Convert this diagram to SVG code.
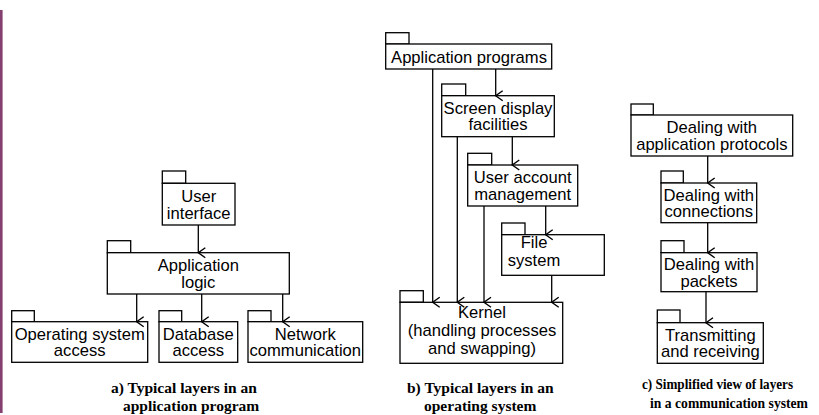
<svg xmlns="http://www.w3.org/2000/svg" width="819" height="415" viewBox="0 0 819 415">
<style>
.box{fill:#fff;stroke:#000;stroke-width:1.3}
.t{font-family:"Liberation Sans",Arial,sans-serif;font-size:16.6px;text-anchor:middle;fill:#000}
.cap{font-family:"Liberation Serif","Times New Roman",serif;font-size:15.5px;font-weight:bold;fill:#000}
.cap2{font-family:"Liberation Serif","Times New Roman",serif;font-size:14.5px;font-weight:bold;fill:#000}
.c{fill:none;stroke:#000;stroke-width:1.3}
</style>
<defs>
<marker id="ah" markerWidth="12" markerHeight="10" refX="6" refY="8" orient="auto" markerUnits="userSpaceOnUse" viewBox="0 0 12 10">
<path d="M1,1 L6,8 L11,1" fill="none" stroke="#000" stroke-width="1.4"/>
</marker>
</defs>
<rect x="0" y="10" width="2.6" height="403" fill="#84406f"/>
<!-- section a -->
<g id="ui"><rect class="box" x="162.3" y="171" width="23.4" height="12.3"/><rect class="box" x="162.3" y="183.3" width="72.7" height="41.7"/><text class="t" x="198.7" y="202">User</text><text class="t" x="198.7" y="218.5">interface</text></g>
<g id="applogic"><rect class="box" x="107.3" y="240.7" width="23.4" height="12"/><rect class="box" x="107.3" y="252.7" width="182" height="41.3"/><text class="t" x="198.3" y="271">Application</text><text class="t" x="198.3" y="287.5">logic</text></g>
<g id="osaccess"><rect class="box" x="11.7" y="310.7" width="22.6" height="11"/><rect class="box" x="11.7" y="321.7" width="136" height="40.6"/><text class="t" x="79.7" y="339.5">Operating system</text><text class="t" x="79.7" y="356">access</text></g>
<g id="dbaccess"><rect class="box" x="159" y="310.7" width="22.7" height="11"/><rect class="box" x="159" y="321.7" width="78.7" height="40.6"/><text class="t" x="198.3" y="339.5">Database</text><text class="t" x="198.3" y="356">access</text></g>
<g id="network"><rect class="box" x="248" y="310.7" width="23" height="11"/><rect class="box" x="248" y="321.7" width="114.7" height="40.6"/><text class="t" x="305.3" y="339.5">Network</text><text class="t" x="305.3" y="356">communication</text></g>
<!-- section b -->
<g id="appprog"><rect class="box" x="385.7" y="32.7" width="23.3" height="11.3"/><rect class="box" x="385.7" y="44" width="166" height="25"/><text class="t" x="469" y="62.5">Application programs</text></g>
<g id="screen"><rect class="box" x="441.7" y="84" width="24" height="11.7"/><rect class="box" x="441.7" y="95.7" width="112.6" height="41"/><text class="t" x="498" y="113.5">Screen display</text><text class="t" x="498" y="130">facilities</text></g>
<g id="useraccount"><rect class="box" x="467.7" y="153.3" width="24" height="11.7"/><rect class="box" x="467.7" y="165" width="110" height="41"/><text class="t" x="522.7" y="183">User account</text><text class="t" x="522.7" y="199.5">management</text></g>
<g id="filesystem"><rect class="box" x="501.7" y="223" width="23.3" height="11.7"/><rect class="box" x="501.7" y="234.7" width="102.6" height="40.6"/><text class="t" x="534" y="248">File</text><text class="t" x="534" y="266">system</text></g>
<g id="kernel"><rect class="box" x="400" y="290.7" width="23.3" height="11.6"/><rect class="box" x="400" y="302.3" width="162.7" height="61"/><text class="t" x="482" y="318">Kernel</text><text class="t" x="482" y="336">(handling processes</text><text class="t" x="482" y="353.5">and swapping)</text></g>
<!-- section c -->
<g id="appproto"><rect class="box" x="631" y="104" width="22.3" height="11"/><rect class="box" x="631" y="115" width="161.7" height="41"/><text class="t" x="711.8" y="133">Dealing with</text><text class="t" x="711.8" y="149.5">application protocols</text></g>
<g id="connections"><rect class="box" x="661" y="171" width="22.3" height="12"/><rect class="box" x="661" y="183" width="95.7" height="39.7"/><text class="t" x="708.8" y="200.5">Dealing with</text><text class="t" x="708.8" y="217">connections</text></g>
<g id="packets"><rect class="box" x="661" y="240.7" width="23" height="12"/><rect class="box" x="661" y="252.7" width="96" height="39"/><text class="t" x="709" y="270">Dealing with</text><text class="t" x="709" y="286.5">packets</text></g>
<g id="transmit"><rect class="box" x="657.3" y="310" width="22.7" height="12.7"/><rect class="box" x="657.3" y="322.7" width="106" height="40.6"/><text class="t" x="710.3" y="340.5">Transmitting</text><text class="t" x="710.3" y="357">and receiving</text></g>
<!-- connectors -->
<g id="connectors">
<path class="c" marker-end="url(#ah)" d="M198.3,225 V252.7"/>
<path class="c" marker-end="url(#ah)" d="M136.7,294 V321.7"/>
<path class="c" marker-end="url(#ah)" d="M201.7,294 V321.7"/>
<path class="c" marker-end="url(#ah)" d="M282.7,294 V321.7"/>
<path class="c" marker-end="url(#ah)" d="M495.7,69 V95.7"/>
<path class="c" marker-end="url(#ah)" d="M432.7,69 V302.3"/>
<path class="c" marker-end="url(#ah)" d="M512.3,136.7 V165"/>
<path class="c" marker-end="url(#ah)" d="M457.3,136.7 V302.3"/>
<path class="c" marker-end="url(#ah)" d="M545.7,206 V234.7"/>
<path class="c" marker-end="url(#ah)" d="M484,206 V302.3"/>
<path class="c" marker-end="url(#ah)" d="M551.7,275.3 V302.3"/>
<path class="c" marker-end="url(#ah)" d="M707.7,156 V183"/>
<path class="c" marker-end="url(#ah)" d="M707.7,222.7 V252.7"/>
<path class="c" marker-end="url(#ah)" d="M706,291.7 V322.7"/>
</g>
<!-- captions -->
<text class="cap" x="111" y="393">a) Typical layers in an</text>
<text class="cap" x="123" y="411">application program</text>
<text class="cap" x="407" y="393">b) Typical layers in an</text>
<text class="cap" x="424" y="411">operating system</text>
<text class="cap2" x="642" y="389" textLength="151" lengthAdjust="spacingAndGlyphs">c) Simplified view of layers</text>
<text class="cap2" x="650" y="408" textLength="158" lengthAdjust="spacingAndGlyphs">in a communication system</text>
</svg>
